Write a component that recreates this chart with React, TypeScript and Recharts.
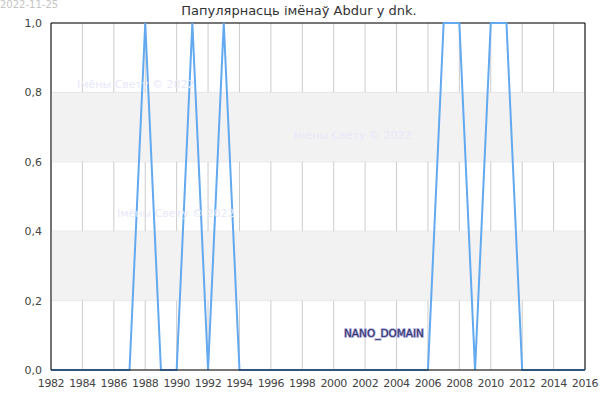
import React from 'react'
import { CartesianGrid, Line, LineChart, ReferenceArea, ReferenceLine, XAxis, YAxis } from 'recharts'

const years = [
  1982, 1983, 1984, 1985, 1986, 1987, 1988, 1989, 1990, 1991, 1992, 1993, 1994, 1995, 1996, 1997, 1998,
  1999, 2000, 2001, 2002, 2003, 2004, 2005, 2006, 2007, 2008, 2009, 2010, 2011, 2012, 2013, 2014, 2015, 2016
]
const popularity = [
  0, 0, 0, 0, 0, 0, 1, 0, 0, 1, 0, 1, 0, 0, 0, 0, 0,
  0, 0, 0, 0, 0, 0, 0, 0, 1, 1, 0, 1, 1, 0, 0, 0, 0, 0
]
const xTicks = [1982, 1984, 1986, 1988, 1990, 1992, 1994, 1996, 1998, 2000, 2002, 2004, 2006, 2008, 2010, 2012, 2014, 2016]
const yTicks = [0, 0.2, 0.4, 0.6, 0.8, 1]
const bands: [number, number][] = [
  [0.2, 0.4],
  [0.6, 0.8]
]

const title = 'Папулярнасць імёнаў Abdur у dnk.'
const dateLabel = '2022-11-25'
const watermark = 'Імёны Свету © 2022'

const font = '"DejaVu Sans", sans-serif'

export default function App() {
  const data = years.map((year, i) => ({ year, value: popularity[i] }))

  return (
    <div style={{ position: 'absolute', left: 0, top: 0, width: 600, height: 400, background: '#fff', fontFamily: font }}>
      <LineChart width={600} height={400} data={data} margin={{ top: 23, right: 15, bottom: 0, left: 11 }}>
        {bands.map(([y1, y2]) => (
          <ReferenceArea key={y1} y1={y1} y2={y2} fill="#f2f2f2" fillOpacity={1} stroke="none" />
        ))}
        <CartesianGrid vertical={false} stroke="#dddddd" />
        <CartesianGrid horizontal={false} stroke="#cccccc" />
        <XAxis
          dataKey="year"
          type="number"
          domain={[1982, 2016]}
          ticks={xTicks}
          interval={0}
          tickLine={false}
          axisLine={{ stroke: '#000' }}
          tick={{ fontSize: 11, fill: '#444', fontFamily: font, letterSpacing: -0.4 }}
          height={30}
          tickMargin={3}
        />
        <YAxis
          type="number"
          domain={[0, 1]}
          ticks={yTicks}
          tickFormatter={(v: number) => v.toFixed(1).replace('.', ',')}
          tickLine={false}
          axisLine={{ stroke: '#000' }}
          tick={{ fontSize: 11, fill: '#444', fontFamily: font }}
          width={40}
          tickMargin={3}
        />
        <ReferenceLine y={1} stroke="#000" />
        <ReferenceLine x={2016} stroke="#000" />
        <Line
          type="linear"
          dataKey="value"
          stroke="#62a9ef"
          strokeWidth={2}
          dot={false}
          isAnimationActive={false}
        />
      </LineChart>
      <svg width={600} height={400} style={{ position: 'absolute', left: 0, top: 0, pointerEvents: 'none' }}>
        <text x={0} y={8} fontSize={10} fill="#c4c4c4" fontFamily={font}>
          {dateLabel}
        </text>
        <text x={299} y={15} fontSize={13} fill="#333" textAnchor="middle" fontFamily={font}>
          {title}
        </text>
        <text x={77} y={88} fontSize={11} fill="#e8e8f8" fontFamily={font}>
          {watermark}
        </text>
        <text x={294} y={139} fontSize={11} fill="#e8e8f8" fontFamily={font}>
          {watermark}
        </text>
        <text x={117} y={217} fontSize={11} fill="#e8e8f8" fontFamily={font}>
          {watermark}
        </text>
        <text
          x={344}
          y={337}
          fontSize={10.5}
          fill="#333366"
          stroke="#aaaadd"
          strokeWidth={1.5}
          paintOrder="stroke"
          fontFamily={font}
        >
          NANO_DOMAIN
        </text>
      </svg>
    </div>
  )
}
